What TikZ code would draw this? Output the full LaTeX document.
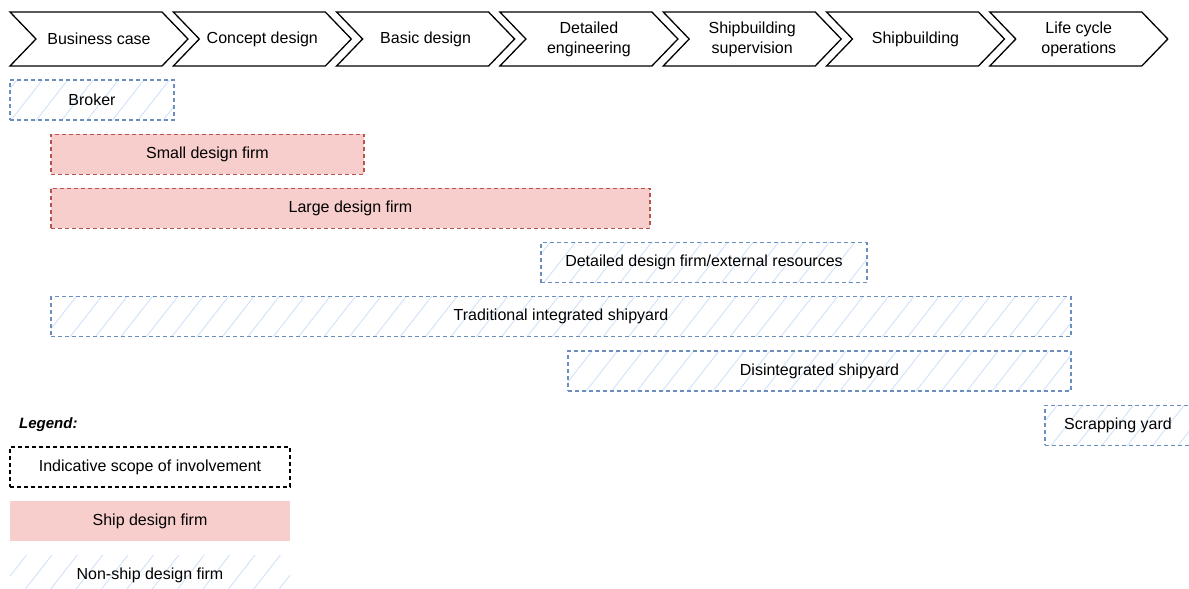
\documentclass[tikz,border=0pt]{standalone}
\usepackage{fontspec}
\setmainfont{Liberation Sans}
\usetikzlibrary{patterns.meta}
\definecolor{firmred}{HTML}{B85450}
\definecolor{firmpink}{HTML}{F8CECC}
\definecolor{yardblue}{HTML}{6C8EBF}
\definecolor{hatchblue}{HTML}{D4E3FA}

\begin{document}
\begin{tikzpicture}[x=1pt,y=-1pt,
    every node/.style={font=\fontsize{16}{20}\selectfont,inner sep=0pt},
    phase/.style={draw=black,line width=1.3pt,line join=miter},
    involve/.style={minimum height=40pt},
    hatch/.style={pattern={Lines[angle=52,distance=20pt,line width=1pt]},pattern color=hatchblue},
    rim/.style={postaction={draw=#1,dash pattern=on 4pt off 3pt,line width=1.2pt}},
    shipfirm/.style={involve,fill=firmpink,rim=firmred},
    nonship/.style={involve,hatch,rim=yardblue}]
  \useasboundingbox (0,0) rectangle (1189,589);
  \foreach \lbl [count=\i from 0] in {Business case,Concept design,Basic design,
      {Detailed\\engineering},{Shipbuilding\\supervision},Shipbuilding,{Life cycle\\operations}}{
    \draw[phase] ({10+163.3*\i},12) -- ++(152,0) -- ++(26,27) -- ++(-26,27)
      -- ++(-152,0) -- ++(26,-27) -- cycle;
    \node[align=center] (ph\i) at ({10+163.3*\i+89},39) {\lbl};
  }
  \node[nonship,minimum width=164pt] (broker) at (92,100) {Broker};
  \node[shipfirm,minimum width=313pt] (small) at (207.5,154.2) {Small design firm};
  \node[shipfirm,minimum width=599pt] (large) at (350.5,208.4) {Large design firm};
  \node[nonship,minimum width=326pt] (detailed) at (704,262.6)
    {Detailed design firm/external resources};
  \node[nonship,minimum width=1020pt] (integrated) at (561,316.8)
    {Traditional integrated shipyard};
  \node[nonship,minimum width=503pt] (disintegrated) at (819.5,371)
    {Disintegrated shipyard};
  \node[nonship,minimum width=146pt] (scrapping) at (1118,425.2) {Scrapping yard};
  \node[anchor=west,font=\fontsize{15}{18}\selectfont\bfseries\itshape] (legend)
    at (19,425) {Legend:};
  \node[involve,rim=black,minimum width=280pt] (scope) at (150,467)
    {Indicative scope of involvement};
  \node[involve,fill=firmpink,minimum width=280pt] (shipkey) at (150,521)
    {Ship design firm};
  \node[involve,hatch,minimum width=280pt] (nonshipkey) at (150,575)
    {Non-ship design firm};
\end{tikzpicture}
\end{document}
